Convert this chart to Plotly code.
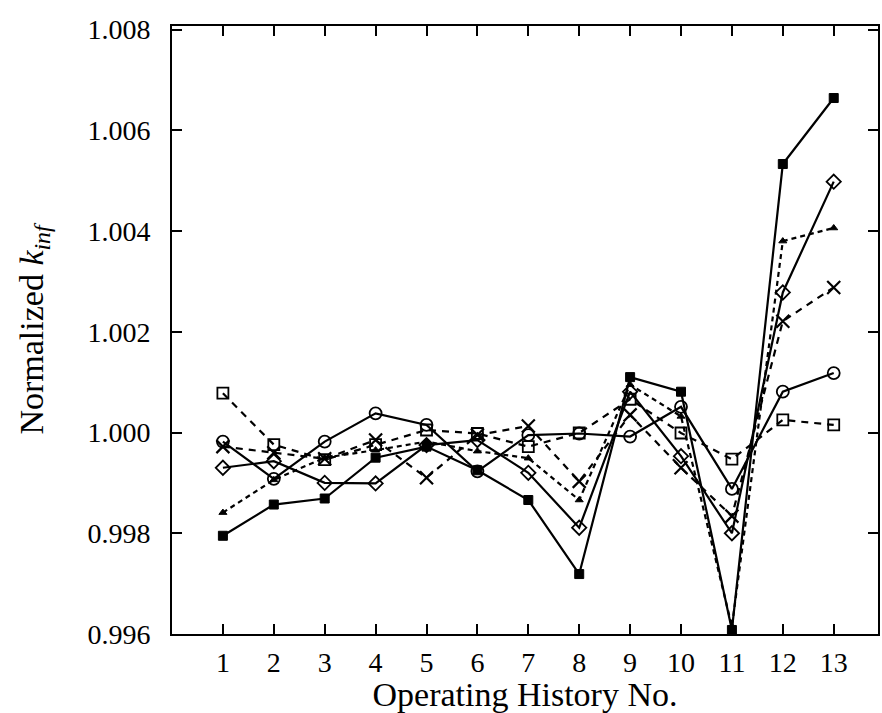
import plotly.graph_objects as go

x_hist = list(range(1, 14))

filled_sq = [0.99795, 0.99857, 0.99869, 0.99950, 0.99972, 0.99925, 0.99866, 0.99719,
             1.00110, 1.00081, 0.99608, 1.00533, 1.00664]
circles = [0.99982, 0.99908, 0.99982, 1.00038, 1.00015, 0.99923, 0.99995, 0.99998,
           0.99992, 1.00051, 0.99888, 1.00081, 1.00118]
diamonds = [0.99930, 0.99943, 0.99900, 0.99899, 0.99975, 0.99985, 0.99920, 0.99811,
            1.00081, 0.99953, 0.99800, 1.00278, 1.00498]
open_sq = [1.00078, 0.99976, 0.99946, 0.99976, 1.00005, 0.99998, 0.99972, 0.99999,
           1.00066, 0.99999, 0.99947, 1.00025, 1.00015]
crosses = [0.99972, 0.99960, 0.99948, 0.99985, 0.99910, 0.99995, 1.00013, 0.99903,
           1.00035, 0.99930, 0.99834, 1.00221, 1.00288]
triangles = [0.99841, 0.99906, 0.99950, 0.99965, 0.99982, 0.99963, 0.99949, 0.99866,
             1.00095, 1.00032, 0.99615, 1.00380, 1.00406]

y_ticks = [0.996, 0.998, 1.000, 1.002, 1.004, 1.006, 1.008]
y_ticktext = ["0.996", "0.998", "1.000", "1.002", "1.004", "1.006", "1.008"]

FONT = "Liberation Serif, Times New Roman, serif"
LW = 2.2

fig = go.Figure()

def add(y, symbol, size, dash, mlw=1.8):
    fig.add_trace(go.Scatter(
        x=x_hist, y=y, mode="lines+markers",
        line=dict(color="black", width=LW, dash=dash),
        marker=dict(symbol=symbol, size=size, color="black",
                    line=dict(color="black", width=mlw)),
        showlegend=False,
    ))

add(open_sq, "square-open", 11, "7px,6px")
add(crosses, "x-thin-open", 13, "7px,6px", 2.2)
add(triangles, "triangle-up", 7, "5px,4px", 1)
add(circles, "circle-open", 12, "solid")
add(diamonds, "diamond-open", 11, "solid")
add(filled_sq, "square", 9, "solid", 1)

fig.update_layout(
    width=882, height=713,
    margin=dict(l=172, r=2, t=26, b=79),
    paper_bgcolor="white", plot_bgcolor="white",
    font=dict(family=FONT, size=28, color="black"),
    xaxis=dict(
        range=[0, 13.87], tickmode="array", tickvals=x_hist,
        ticktext=[str(v) for v in x_hist],
        ticks="inside", ticklen=10, tickwidth=2, tickcolor="black",
        showline=True, linecolor="black", linewidth=2, mirror="ticks",
        showgrid=False, zeroline=False,
        title=dict(text="Operating History No.", standoff=4),
        ticklabelstandoff=2,
    ),
    yaxis=dict(
        range=[0.996, 1.00807], tickmode="array", tickvals=y_ticks,
        ticktext=y_ticktext,
        ticks="inside", ticklen=10, tickwidth=2, tickcolor="black",
        showline=True, linecolor="black", linewidth=2, mirror="ticks",
        showgrid=False, zeroline=False,
        title=dict(text="Normalized <i>k<sub>inf</sub></i>", standoff=34),
        ticklabelstandoff=14,
    ),
)

fig.write_html("out.html")
